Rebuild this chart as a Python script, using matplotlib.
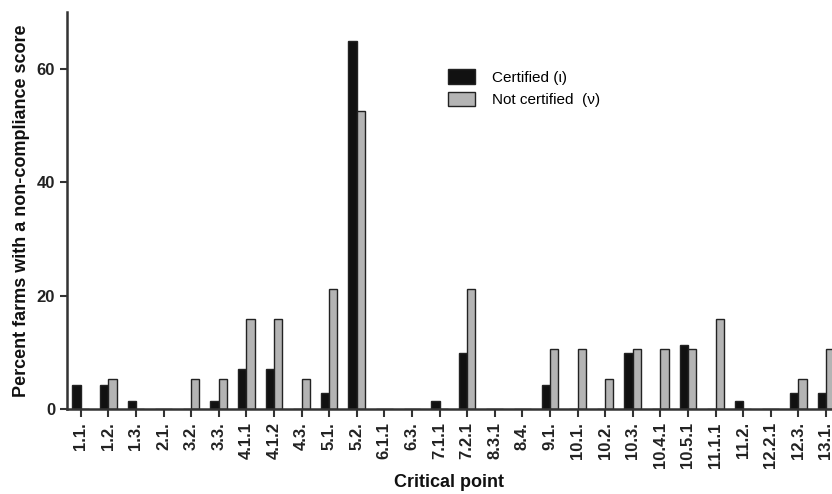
import numpy as np
import matplotlib
matplotlib.use('Agg')
import matplotlib.pyplot as plt

plt.rcParams['font.family'] = ['Liberation Sans', 'DejaVu Sans']

# Dados
pontos = ['1.1.', '1.2.', '1.3.', '2.1.', '3.2.', '3.3.', '4.1.1', '4.1.2', '4.3.',
          '5.1.', '5.2.', '6.1.1', '6.3.', '7.1.1', '7.2.1', '8.3.1', '8.4.', '9.1.',
          '10.1.', '10.2.', '10.3.', '10.4.1', '10.5.1', '11.1.1', '11.2.', '12.2.1',
          '12.3.', '13.1.']
certificadas = [4.2, 4.2, 1.4, 0, 0, 1.4, 7.0, 7.0, 0,
                2.8, 64.8, 0, 0, 1.4, 9.9, 0, 0, 4.2,
                0, 0, 9.9, 0, 11.3, 0, 1.4, 0,
                2.8, 2.8]
nao_certificadas = [0, 5.3, 0, 0, 5.3, 5.3, 15.8, 15.8, 5.3,
                    21.1, 52.6, 0, 0, 0, 21.1, 0, 0, 10.5,
                    10.5, 5.3, 10.5, 10.5, 10.5, 15.8, 0, 0,
                    5.3, 10.5]

x = np.arange(len(pontos))
largura = 0.3

fig = plt.figure(figsize=(8.32, 4.94), dpi=100)
ax = fig.add_axes([0.0805, 0.172, 0.9195, 0.804])

ax.bar(x - largura / 2, certificadas, largura, color='#111111', edgecolor='#222222',
       linewidth=1, label='Certified (\u03b9)')
ax.bar(x + largura / 2, nao_certificadas, largura, color='#b4b4b4', edgecolor='#222222',
       linewidth=1, label='Not certified  (\u03bd)')

ax.set_xlim(-0.5, 27.22)
ax.set_ylim(0, 70)
ax.set_yticks([0, 20, 40, 60])
ax.set_xticks(x)
ax.set_xticklabels(pontos, rotation=90, fontsize=12, fontweight='bold', color='#222222')
for lbl in ax.get_yticklabels():
    lbl.set_fontweight('bold')
    lbl.set_color('#222222')
ax.tick_params(axis='y', labelsize=12, width=1.5, length=5, color='#333333')
ax.tick_params(axis='x', width=1.5, length=6, color='#333333')

for lado in ['top', 'right']:
    ax.spines[lado].set_visible(False)
for lado in ['left', 'bottom']:
    ax.spines[lado].set_linewidth(1.8)
    ax.spines[lado].set_color('#333333')

ax.set_ylabel('Percent farms with a non-compliance score', fontsize=13, fontweight='bold',
              labelpad=5, color='#111111')
ax.set_xlabel('Critical point', fontsize=13, fontweight='bold', labelpad=4, color='#111111')

ax.legend(loc='upper left', bbox_to_anchor=(0.48, 0.89), frameon=False, fontsize=11,
          handlelength=1.8, handleheight=1.1, labelspacing=0.45, handletextpad=1.1)

fig.savefig('out.png', dpi=100)
